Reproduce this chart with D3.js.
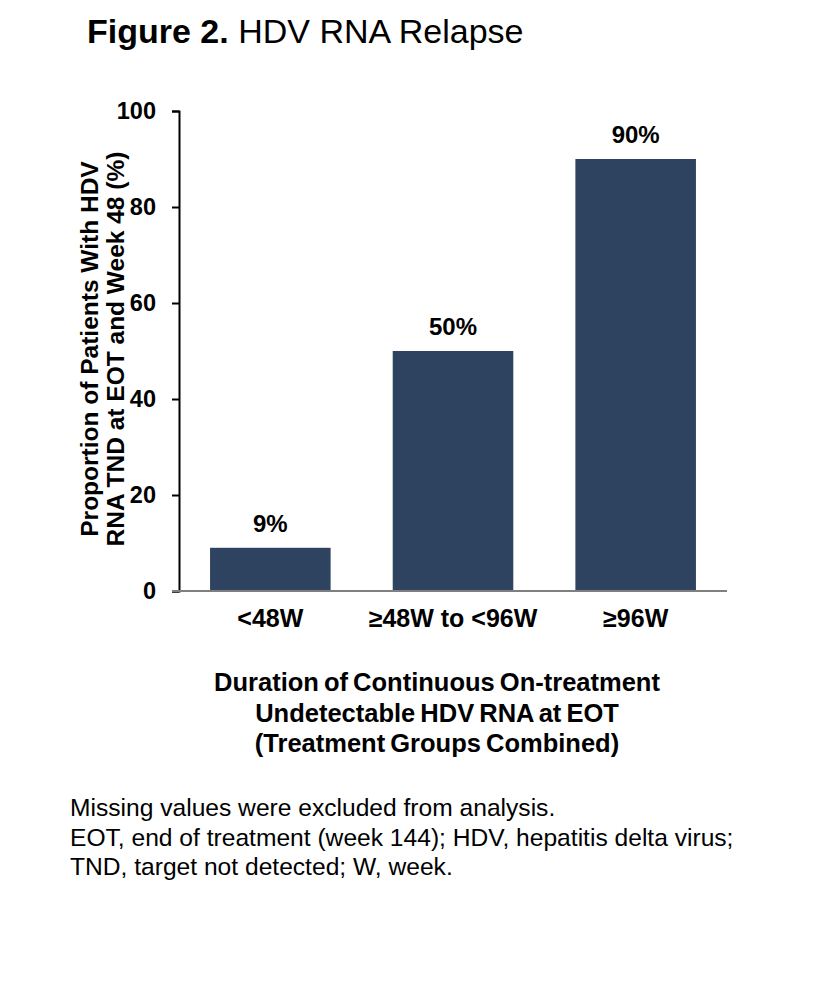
<!DOCTYPE html>
<html>
<head>
<meta charset="utf-8">
<script src="https://cdn.jsdelivr.net/npm/d3@7"></script>
<style>
  body { margin: 0; background: #fff; }
  text { font-family: "Liberation Sans", Arial, sans-serif; fill: #000; }
</style>
</head>
<body>
<div id="chart"></div>
<script>
// chart data
var categories = ["<48W", "\u226548W to <96W", "\u226596W"];
var values = [9, 50, 90];
var yTicks = [0, 20, 40, 60, 80, 100];
var yTitleLines = ["Proportion of Patients With HDV", "RNA TND at EOT and Week 48 (%)"];
var xTitleLines = ["Duration of Continuous On-treatment", "Undetectable HDV RNA  at EOT", "(Treatment Groups Combined)"];
var footnotes = ["Missing values were excluded from analysis.",
    "EOT, end of treatment (week 144); HDV, hepatitis delta virus;",
    "TND, target not detected; W, week."];

var width = 813, height = 1000;
var plotLeft = 179, plotRight = 727, plotTop = 111, plotBottom = 591;

var svg = d3.select("#chart").append("svg")
    .attr("width", width)
    .attr("height", height);

// title
var title = svg.append("text")
    .attr("x", 87)
    .attr("y", 43)
    .attr("font-size", "34px");
title.append("tspan").attr("font-weight", "bold").text("Figure 2.");
title.append("tspan").text(" HDV RNA Relapse");

var x = d3.scaleBand()
    .domain(categories)
    .range([plotLeft, plotRight])
    .paddingInner(0.34)
    .paddingOuter(0.17);

var y = d3.scaleLinear()
    .domain([0, 100])
    .range([plotBottom, plotTop]);

// bars
svg.selectAll(".bar")
    .data(values)
    .enter()
    .append("rect")
    .attr("class", "bar")
    .attr("x", (d, i) => x(categories[i]))
    .attr("y", d => y(d))
    .attr("width", x.bandwidth())
    .attr("height", d => y(0) - y(d))
    .attr("fill", "#2e4360");

// value labels
svg.selectAll(".val")
    .data(values)
    .enter()
    .append("text")
    .attr("class", "val")
    .attr("x", (d, i) => x(categories[i]) + x.bandwidth() / 2)
    .attr("y", d => y(d) - 16)
    .attr("text-anchor", "middle")
    .attr("font-size", "24px")
    .attr("font-weight", "bold")
    .text(d => d + "%");

// y axis
var yAxis = svg.append("g")
    .attr("transform", "translate(" + plotLeft + ",0)")
    .call(d3.axisLeft(y).tickValues(yTicks).tickSize(7).tickPadding(16));
yAxis.select(".domain").attr("stroke", "#000").attr("stroke-width", 2);
yAxis.selectAll(".tick line").attr("stroke", "#000").attr("stroke-width", 2);
yAxis.selectAll(".tick text")
    .attr("font-size", "23.5px")
    .attr("font-weight", "bold")
    .attr("font-family", "Liberation Sans, Arial, sans-serif")
    .attr("fill", "#000");

// x axis
var xAxis = svg.append("g")
    .attr("transform", "translate(0," + plotBottom + ")")
    .call(d3.axisBottom(x).tickSize(0).tickPadding(18));
xAxis.select(".domain").remove();
xAxis.append("line")
    .attr("x1", plotLeft - 7)
    .attr("x2", plotRight)
    .attr("y1", 0)
    .attr("y2", 0)
    .attr("stroke", "#7f7f7f")
    .attr("stroke-width", 2);
xAxis.selectAll(".tick text")
    .attr("font-size", "25px")
    .attr("font-weight", "bold")
    .attr("font-family", "Liberation Sans, Arial, sans-serif")
    .attr("fill", "#000");

// y axis title
var yTitle = svg.append("text")
    .attr("transform", "translate(96,349) rotate(-90)")
    .attr("text-anchor", "middle")
    .attr("font-size", "24.5px")
    .attr("font-weight", "bold");
yTitle.selectAll("tspan")
    .data(yTitleLines)
    .enter()
    .append("tspan")
    .attr("x", 0)
    .attr("dy", (d, i) => i == 0 ? 2 : 25.5)
    .text(d => d);

// x axis title
svg.selectAll(".xtitle")
    .data(xTitleLines)
    .enter()
    .append("text")
    .attr("class", "xtitle")
    .attr("x", 437)
    .attr("y", (d, i) => 691 + i * 30.5)
    .attr("text-anchor", "middle")
    .attr("font-size", "25.5px")
    .attr("font-weight", "bold")
    .attr("word-spacing", "-2px")
    .text(d => d);

// footnotes
svg.selectAll(".foot")
    .data(footnotes)
    .enter()
    .append("text")
    .attr("class", "foot")
    .attr("x", 70)
    .attr("y", (d, i) => 816 + i * 29.5)
    .attr("font-size", "24.6px")
    .text(d => d);
</script>
</body>
</html>
